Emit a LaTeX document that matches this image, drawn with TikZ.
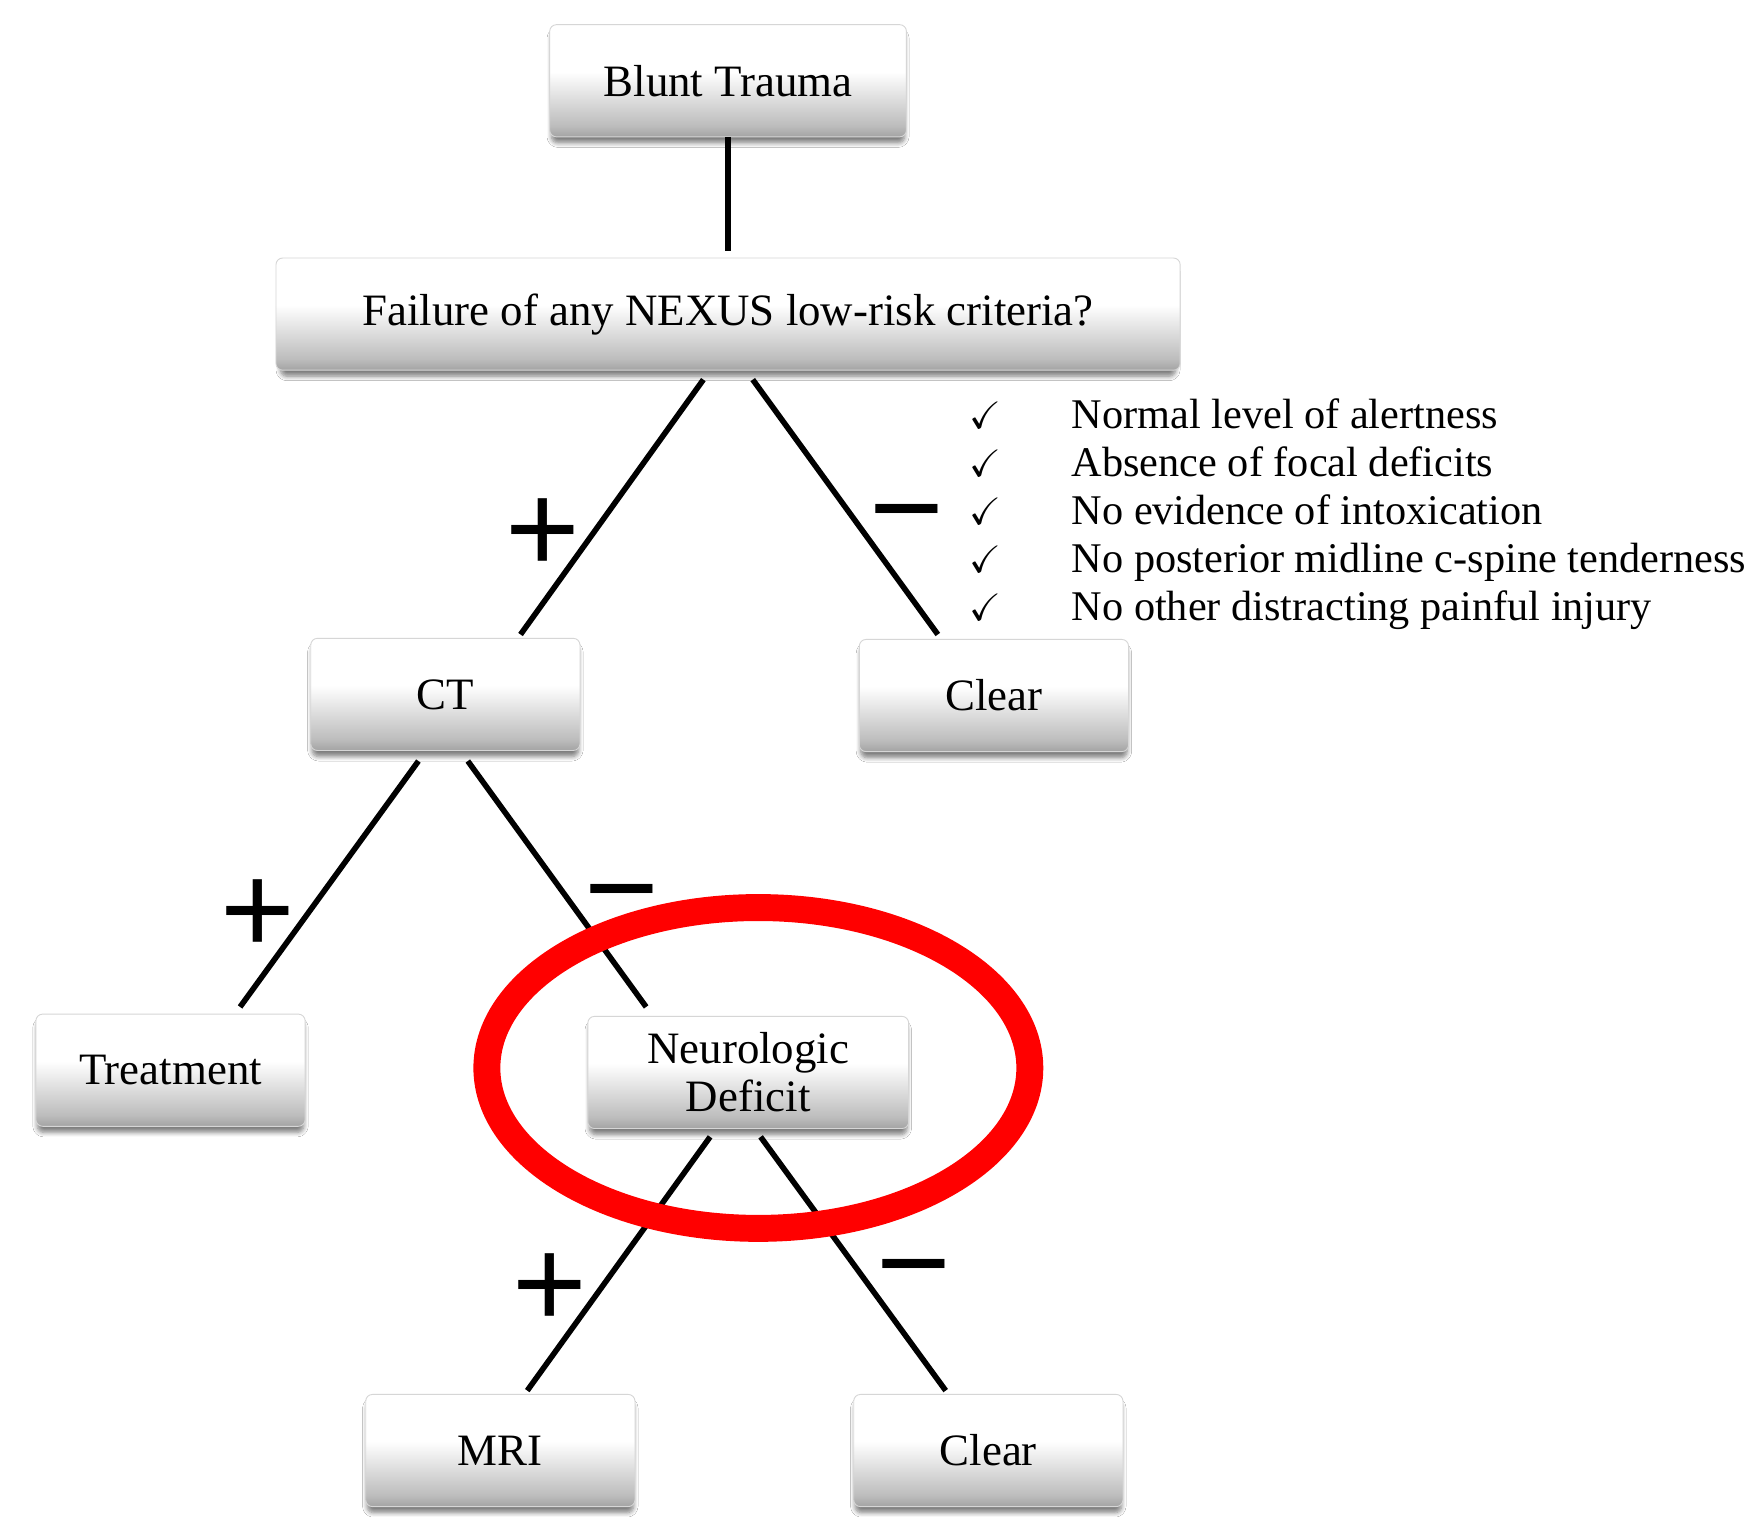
\documentclass[tikz,border=0pt]{standalone}
\usepackage{amssymb}
\usepackage{fontspec}
\setmainfont{Liberation Serif}
\newfontfamily\signfont{Liberation Sans}
\usetikzlibrary{calc,shadows.blur}

% white upper part fading to grey at the bottom of each box
\pgfdeclareverticalshading{boxfill}{100bp}{color(0bp)=(black!36); color(25bp)=(black!36);
  color(30bp)=(black!26); color(54bp)=(white); color(100bp)=(white)}

\tikzset{
  box/.style={rectangle, rounded corners=3pt, shade, shading=boxfill,
    draw=black!16, line width=0.4pt, inner sep=0pt, align=center,
    minimum height=50pt, font=\fontsize{20}{21.5}\selectfont,
    blur shadow={shadow xshift=0pt, shadow yshift=-3pt, shadow blur radius=2pt,
      shadow blur steps=6, shadow opacity=50, shadow scale=0.99}},
  conn/.style={draw=black, line width=2.5pt},
  sign/.style={anchor=base, inner sep=0pt, font=\signfont\fontsize{57}{57}\selectfont},
  crit/.style={anchor=base west, inner sep=0pt, font=\fontsize{18.85}{22}\selectfont},
  tick/.style={anchor=base, inner sep=0pt, font=\fontsize{17}{22}\selectfont},
}

\begin{document}
\begin{tikzpicture}[x=0.5pt,y=-0.5pt]
\fill[white] (0,0) rectangle (1568,1352);
\useasboundingbox (0,0) rectangle (1568,1352);

% decision boxes
\node[box, minimum width=159pt] (blunt) at (649,72)  {Blunt Trauma};
\node[box, minimum width=403pt] (fail)  at (649,280) {Failure of any NEXUS low-risk criteria?};
\node[box, minimum width=120pt] (ct)    at (397,619) {CT};
\node[box, minimum width=120pt] (clr1)  at (886,620) {Clear};
\node[box, minimum width=120pt] (treat) at (152,954) {Treatment};
\node[box, minimum width=143pt] (neuro) at (667,956) {Neurologic\\Deficit};
\node[box, minimum width=120pt] (mri)   at (446,1293) {MRI};
\node[box, minimum width=120pt] (clr2)  at (881,1293) {Clear};

% branches
\draw[conn] (blunt.south) -- ($(fail.north)+(0,-6)$);
\draw[conn] ($(fail.south)+(-22,8)$) -- ($(ct.north)+(67,-3)$);
\draw[conn] ($(fail.south)+(22,8)$)  -- ($(clr1.north)+(-50,-4)$);
\draw[conn] ($(ct.south)+(-24,9)$)   -- ($(treat.north)+(62,-6)$);
\draw[conn] ($(ct.south)+(20,9)$)    -- ($(neuro.north)+(-91,-8)$);
\draw[conn] ($(neuro.south)+(-34,7)$) -- ($(mri.north)+(24,-3)$);
\draw[conn] ($(neuro.south)+(11,7)$)  -- ($(clr2.north)+(-38,-3)$);

% branch signs
\node[sign] (p1) at (484,510)  {+};
\node[sign] (m1) at (808,492)  {−};
\node[sign] (p2) at (230,850)  {+};
\node[sign] (m2) at (554,830)  {−};
\node[sign] (p3) at (490,1183) {+};
\node[sign] (m3) at (815,1165) {−};

% NEXUS low-risk criteria
\foreach \i/\txt in {0/Normal level of alertness,
                     1/Absence of focal deficits,
                     2/No evidence of intoxication,
                     3/No posterior midline c-spine tenderness,
                     4/No other distracting painful injury}{
  \node[tick] (chk\i) at (878,{382+42.75*\i}) {$\checkmark$};
  \node[crit] (crit\i) at (955,{382+42.75*\i}) {\txt};
}

% highlight round the neurologic deficit step
\draw[red, line width=12pt] (676,952) ellipse [x radius=121pt, y radius=71.5pt];
\end{tikzpicture}
\end{document}
